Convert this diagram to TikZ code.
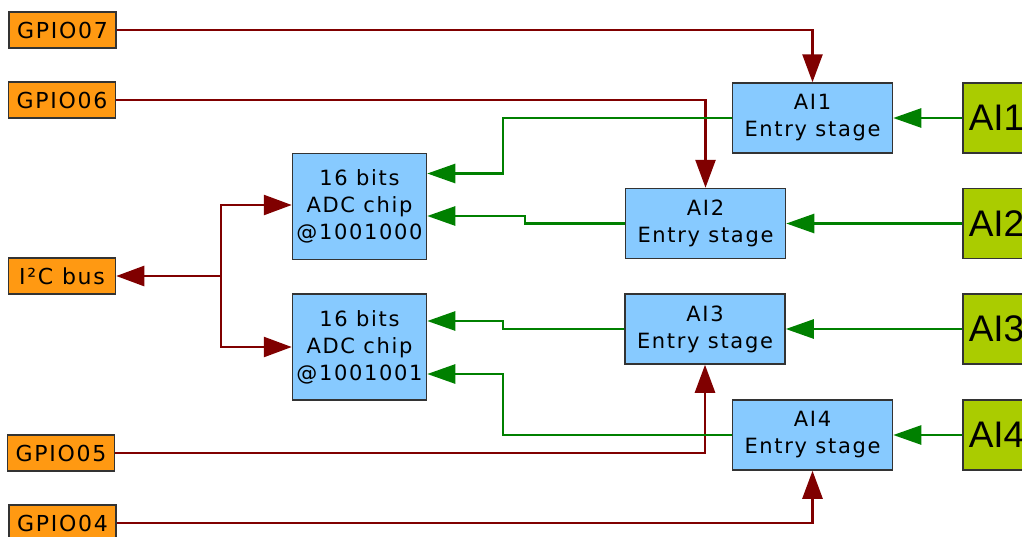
\documentclass[tikz,border=0pt]{standalone}
\usepackage{fontspec}
\setmainfont{DejaVu Sans}[LetterSpace=8]
\newfontfamily\bigfont{Liberation Sans}
\usetikzlibrary{arrows.meta}
\definecolor{gpioorange}{HTML}{FF9912}
\definecolor{stageblue}{HTML}{87CAFF}
\definecolor{inputgreen}{HTML}{AACC00}
\definecolor{boxline}{HTML}{333333}
\definecolor{ctrlred}{HTML}{800000}
\definecolor{sigreen}{HTML}{008000}
\begin{document}
\begin{tikzpicture}[x=1pt,y=-1pt,
    box/.style={draw=boxline,line width=1.5pt,align=center,inner sep=0pt,
      font=\fontsize{21}{27}\selectfont},
    gpio/.style={box,fill=gpioorange,minimum width=107pt,minimum height=36pt,
      font=\fontsize{22}{27}\selectfont},
    stage/.style={box,fill=stageblue,minimum width=160pt,minimum height=70pt},
    adc/.style={box,fill=stageblue,minimum width=134pt,minimum height=106pt},
    input/.style={box,fill=inputgreen,anchor=west,minimum height=70pt,
      text width=96pt,inner xsep=6pt,align=left,font=\bigfont\fontsize{37}{40}\selectfont},
    ctrl/.style={draw=ctrlred,line width=2.6pt,-{Triangle[length=28pt,width=20pt]}},
    sig/.style={draw=sigreen,line width=2.6pt,-{Triangle[length=28pt,width=19pt]}}]
  \clip (0,0) rectangle (1022,536);

  \node[gpio] (gpio7) at (62.5,30) {GPIO07};
  \node[gpio] (gpio6) at (62,100) {GPIO06};
  \node[gpio] (i2c) at (62,276) {I²C bus};
  \node[gpio] (gpio5) at (61,453) {GPIO05};
  \node[gpio] (gpio4) at (62.5,523) {GPIO04};

  \node[adc] (adc1) at (359.5,206.5) {16 bits\\ADC chip\\@1001000};
  \node[adc] (adc2) at (359.5,347) {16 bits\\ADC chip\\@1001001};

  \node[stage] (ai1) at (812.5,118) {AI1\\Entry stage};
  \node[stage] (ai2) at (705.5,223.5) {AI2\\Entry stage};
  \node[stage] (ai3) at (705,329) {AI3\\Entry stage};
  \node[stage] (ai4) at (812.5,435) {AI4\\Entry stage};

  \node[input] (in1) at (962,118) {AI1};
  \node[input] (in2) at (962,223.5) {AI2};
  \node[input] (in3) at (962,329) {AI3};
  \node[input] (in4) at (962,435) {AI4};

  % gpio lines
  \draw[ctrl] (gpio7.east) -| (ai1.north);
  \draw[ctrl] (gpio6.east) -| (ai2.north);
  \draw[ctrl] (gpio5.east) -| (ai3.south);
  \draw[ctrl] (gpio4.east) -| (ai4.south);

  % i2c bus
  \coordinate (bus) at (221,276);
  \draw[ctrl] (bus) -- (i2c.east);
  \draw[ctrl] (bus) |- ([yshift=1.5pt]adc1.west);
  \draw[ctrl] (bus) |- (adc2.west);

  % analog inputs
  \foreach \n in {1,...,4}
    \draw[sig] (in\n.west) -- (ai\n.east);
  \draw[sig] (ai1.west) -- (503,118) |- ([yshift=33pt]adc1.east);
  \draw[sig] (ai2.west) -- (525,223.5) |- ([yshift=-9.5pt]adc1.east);
  \draw[sig] (ai3.west) -- (503,329) |- ([yshift=26pt]adc2.east);
  \draw[sig] (ai4.west) -- (503,435) |- ([yshift=-27pt]adc2.east);
\end{tikzpicture}
\end{document}
